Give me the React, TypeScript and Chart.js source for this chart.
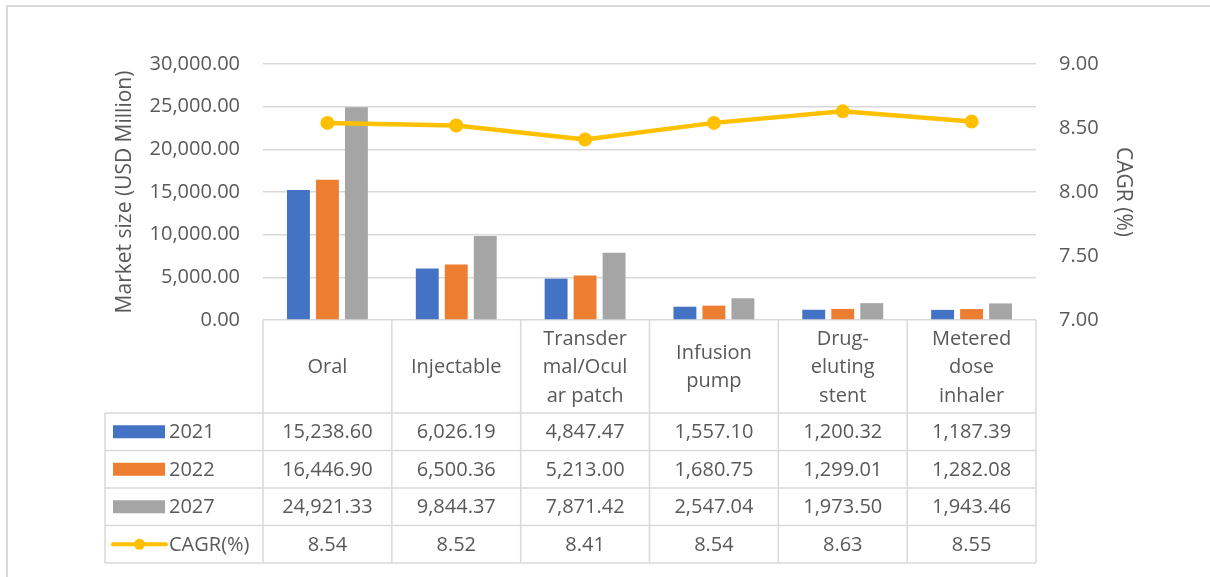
import React, { useEffect, useRef } from "react";
import { Chart, registerables } from "chart.js";

Chart.register(...registerables);

const categories: string[][] = [
  ["Oral"],
  ["Injectable"],
  ["Transder", "mal/Ocul", "ar patch"],
  ["Infusion", "pump"],
  ["Drug-", "eluting", "stent"],
  ["Metered", "dose", "inhaler"],
];
const values2021 = [15238.6, 6026.19, 4847.47, 1557.1, 1200.32, 1187.39];
const values2022 = [16446.9, 6500.36, 5213.0, 1680.75, 1299.01, 1282.08];
const values2027 = [24921.33, 9844.37, 7871.42, 2547.04, 1973.5, 1943.46];
const cagr = [8.54, 8.52, 8.41, 8.54, 8.63, 8.55];
const seriesNames = ["2021", "2022", "2027", "CAGR(%)"];
const leftTicks = [0, 5000, 10000, 15000, 20000, 25000, 30000];
const rightTicks = [7, 7.5, 8, 8.5, 9];

const COLORS = ["#4472C4", "#ED7D31", "#A5A5A5", "#FFC000"];
const TEXT = "#595959";
const GRID = "#D9D9D9";
const FONT = "'Open Sans', 'Noto Sans', sans-serif";

const fmt = (v: number) =>
  v.toLocaleString("en-US", { minimumFractionDigits: 2, maximumFractionDigits: 2 });

const tablePlugin = {
  id: "dataTable",
  afterDraw(chart: any) {
    const ctx = chart.ctx as CanvasRenderingContext2D;
    const area = chart.chartArea;
    const xs = chart.scales.x;
    const n = categories.length;
    const colW = (area.right - area.left) / n;
    const headerBottom = area.bottom + 93;
    const rowH = 37.5;
    const tableLeft = 105;
    const rows = [values2021, values2022, values2027, cagr];
    const tableBottom = headerBottom + rowH * rows.length;

    ctx.save();
    ctx.strokeStyle = GRID;
    ctx.lineWidth = 2;
    ctx.beginPath();
    ctx.moveTo(7, 577);
    ctx.lineTo(7, 6);
    ctx.lineTo(1210, 6);
    ctx.stroke();

    ctx.lineWidth = 1.5;
    ctx.beginPath();
    for (let k = 0; k <= n; k++) {
      const x = area.left + k * colW;
      ctx.moveTo(x, area.bottom);
      ctx.lineTo(x, tableBottom);
    }
    ctx.moveTo(tableLeft, headerBottom);
    ctx.lineTo(tableLeft, tableBottom);
    for (let r = 0; r <= rows.length; r++) {
      const y = headerBottom + r * rowH;
      ctx.moveTo(tableLeft, y);
      ctx.lineTo(area.right, y);
    }
    ctx.stroke();

    ctx.fillStyle = TEXT;
    ctx.font = `20px ${FONT}`;
    ctx.textAlign = "center";
    ctx.textBaseline = "middle";
    const headerMid = (area.bottom + headerBottom) / 2;
    const lh = 28.5;
    categories.forEach((lines, i) => {
      const cx = xs.getPixelForValue(i);
      const y0 = headerMid - ((lines.length - 1) * lh) / 2;
      lines.forEach((t, j) => ctx.fillText(t, cx, y0 + j * lh + 1));
    });

    rows.forEach((vals, r) => {
      const cy = headerBottom + r * rowH + rowH / 2;
      vals.forEach((v, i) => {
        const cx = xs.getPixelForValue(i);
        ctx.fillStyle = TEXT;
        ctx.textAlign = "center";
        ctx.fillText(r === 3 ? v.toFixed(2) : fmt(v), cx, cy + 1);
      });
      if (r < 3) {
        ctx.fillStyle = COLORS[r];
        ctx.fillRect(113, cy - 6.5, 52, 13);
      } else {
        ctx.strokeStyle = COLORS[3];
        ctx.lineWidth = 4;
        ctx.lineCap = "round";
        ctx.beginPath();
        ctx.moveTo(113, cy);
        ctx.lineTo(166, cy);
        ctx.stroke();
        ctx.fillStyle = COLORS[3];
        ctx.beginPath();
        ctx.arc(139.5, cy, 5.5, 0, Math.PI * 2);
        ctx.fill();
      }
      ctx.fillStyle = TEXT;
      ctx.textAlign = "left";
      ctx.fillText(seriesNames[r], 169, cy + 1);
    });
    ctx.restore();
  },
};

export default function App() {
  const ref = useRef<HTMLCanvasElement | null>(null);
  useEffect(() => {
    if (!ref.current) return;
    Chart.defaults.font.family = FONT;
    const barCommon = { categoryPercentage: 0.675, barPercentage: 0.79, order: 1, yAxisID: "y" };
    const chart = new Chart(ref.current, {
      type: "bar",
      data: {
        labels: categories.map((c) => c.join(" ")),
        datasets: [
          { ...barCommon, label: seriesNames[0], data: values2021, backgroundColor: COLORS[0] },
          { ...barCommon, label: seriesNames[1], data: values2022, backgroundColor: COLORS[1] },
          { ...barCommon, label: seriesNames[2], data: values2027, backgroundColor: COLORS[2] },
          {
            type: "line",
            label: seriesNames[3],
            data: cagr,
            yAxisID: "y1",
            order: 0,
            borderColor: COLORS[3],
            backgroundColor: COLORS[3],
            borderWidth: 4.5,
            pointRadius: 7,
            pointBorderWidth: 0,
            pointBackgroundColor: COLORS[3],
            tension: 0,
          } as any,
        ],
      },
      options: {
        responsive: false,
        animation: false,
        devicePixelRatio: 1,
        layout: { padding: { top: 64, bottom: 257, left: 0, right: 0 } },
        plugins: { legend: { display: false }, tooltip: { enabled: false }, title: { display: false } },
        scales: {
          x: { display: false },
          y: {
            position: "left",
            min: leftTicks[0],
            max: leftTicks[leftTicks.length - 1],
            afterBuildTicks: (s: any) => {
              s.ticks = leftTicks.map((v) => ({ value: v }));
            },
            afterFit: (s: any) => {
              s.width = 263;
            },
            border: { display: false },
            grid: { color: GRID, lineWidth: 1.5, drawTicks: false },
            ticks: {
              padding: 23,
              color: TEXT,
              font: { size: 20 },
              callback: (v: any) => fmt(Number(v)),
            },
            title: {
              display: true,
              text: "Market size (USD Million)",
              color: TEXT,
              font: { size: 21 },
              padding: { top: 112, bottom: 0 },
            },
          },
          y1: {
            position: "right",
            min: rightTicks[0],
            max: rightTicks[rightTicks.length - 1],
            afterBuildTicks: (s: any) => {
              s.ticks = rightTicks.map((v) => ({ value: v }));
            },
            afterFit: (s: any) => {
              s.width = 174;
            },
            border: { display: false },
            grid: { drawOnChartArea: false, drawTicks: false },
            ticks: {
              padding: 23,
              color: TEXT,
              font: { size: 20 },
              callback: (v: any) => Number(v).toFixed(2),
            },
            title: {
              display: true,
              text: "CAGR (%)",
              color: TEXT,
              font: { size: 21 },
              padding: { top: 74, bottom: 0 },
            },
          },
        },
      },
      plugins: [tablePlugin],
    } as any);
    return () => chart.destroy();
  }, []);
  return (
    <div style={{ position: "fixed", left: 0, top: 0, width: 1210, height: 577, background: "#fff" }}>
      <canvas ref={ref} width={1210} height={577} style={{ display: "block" }} />
    </div>
  );
}
